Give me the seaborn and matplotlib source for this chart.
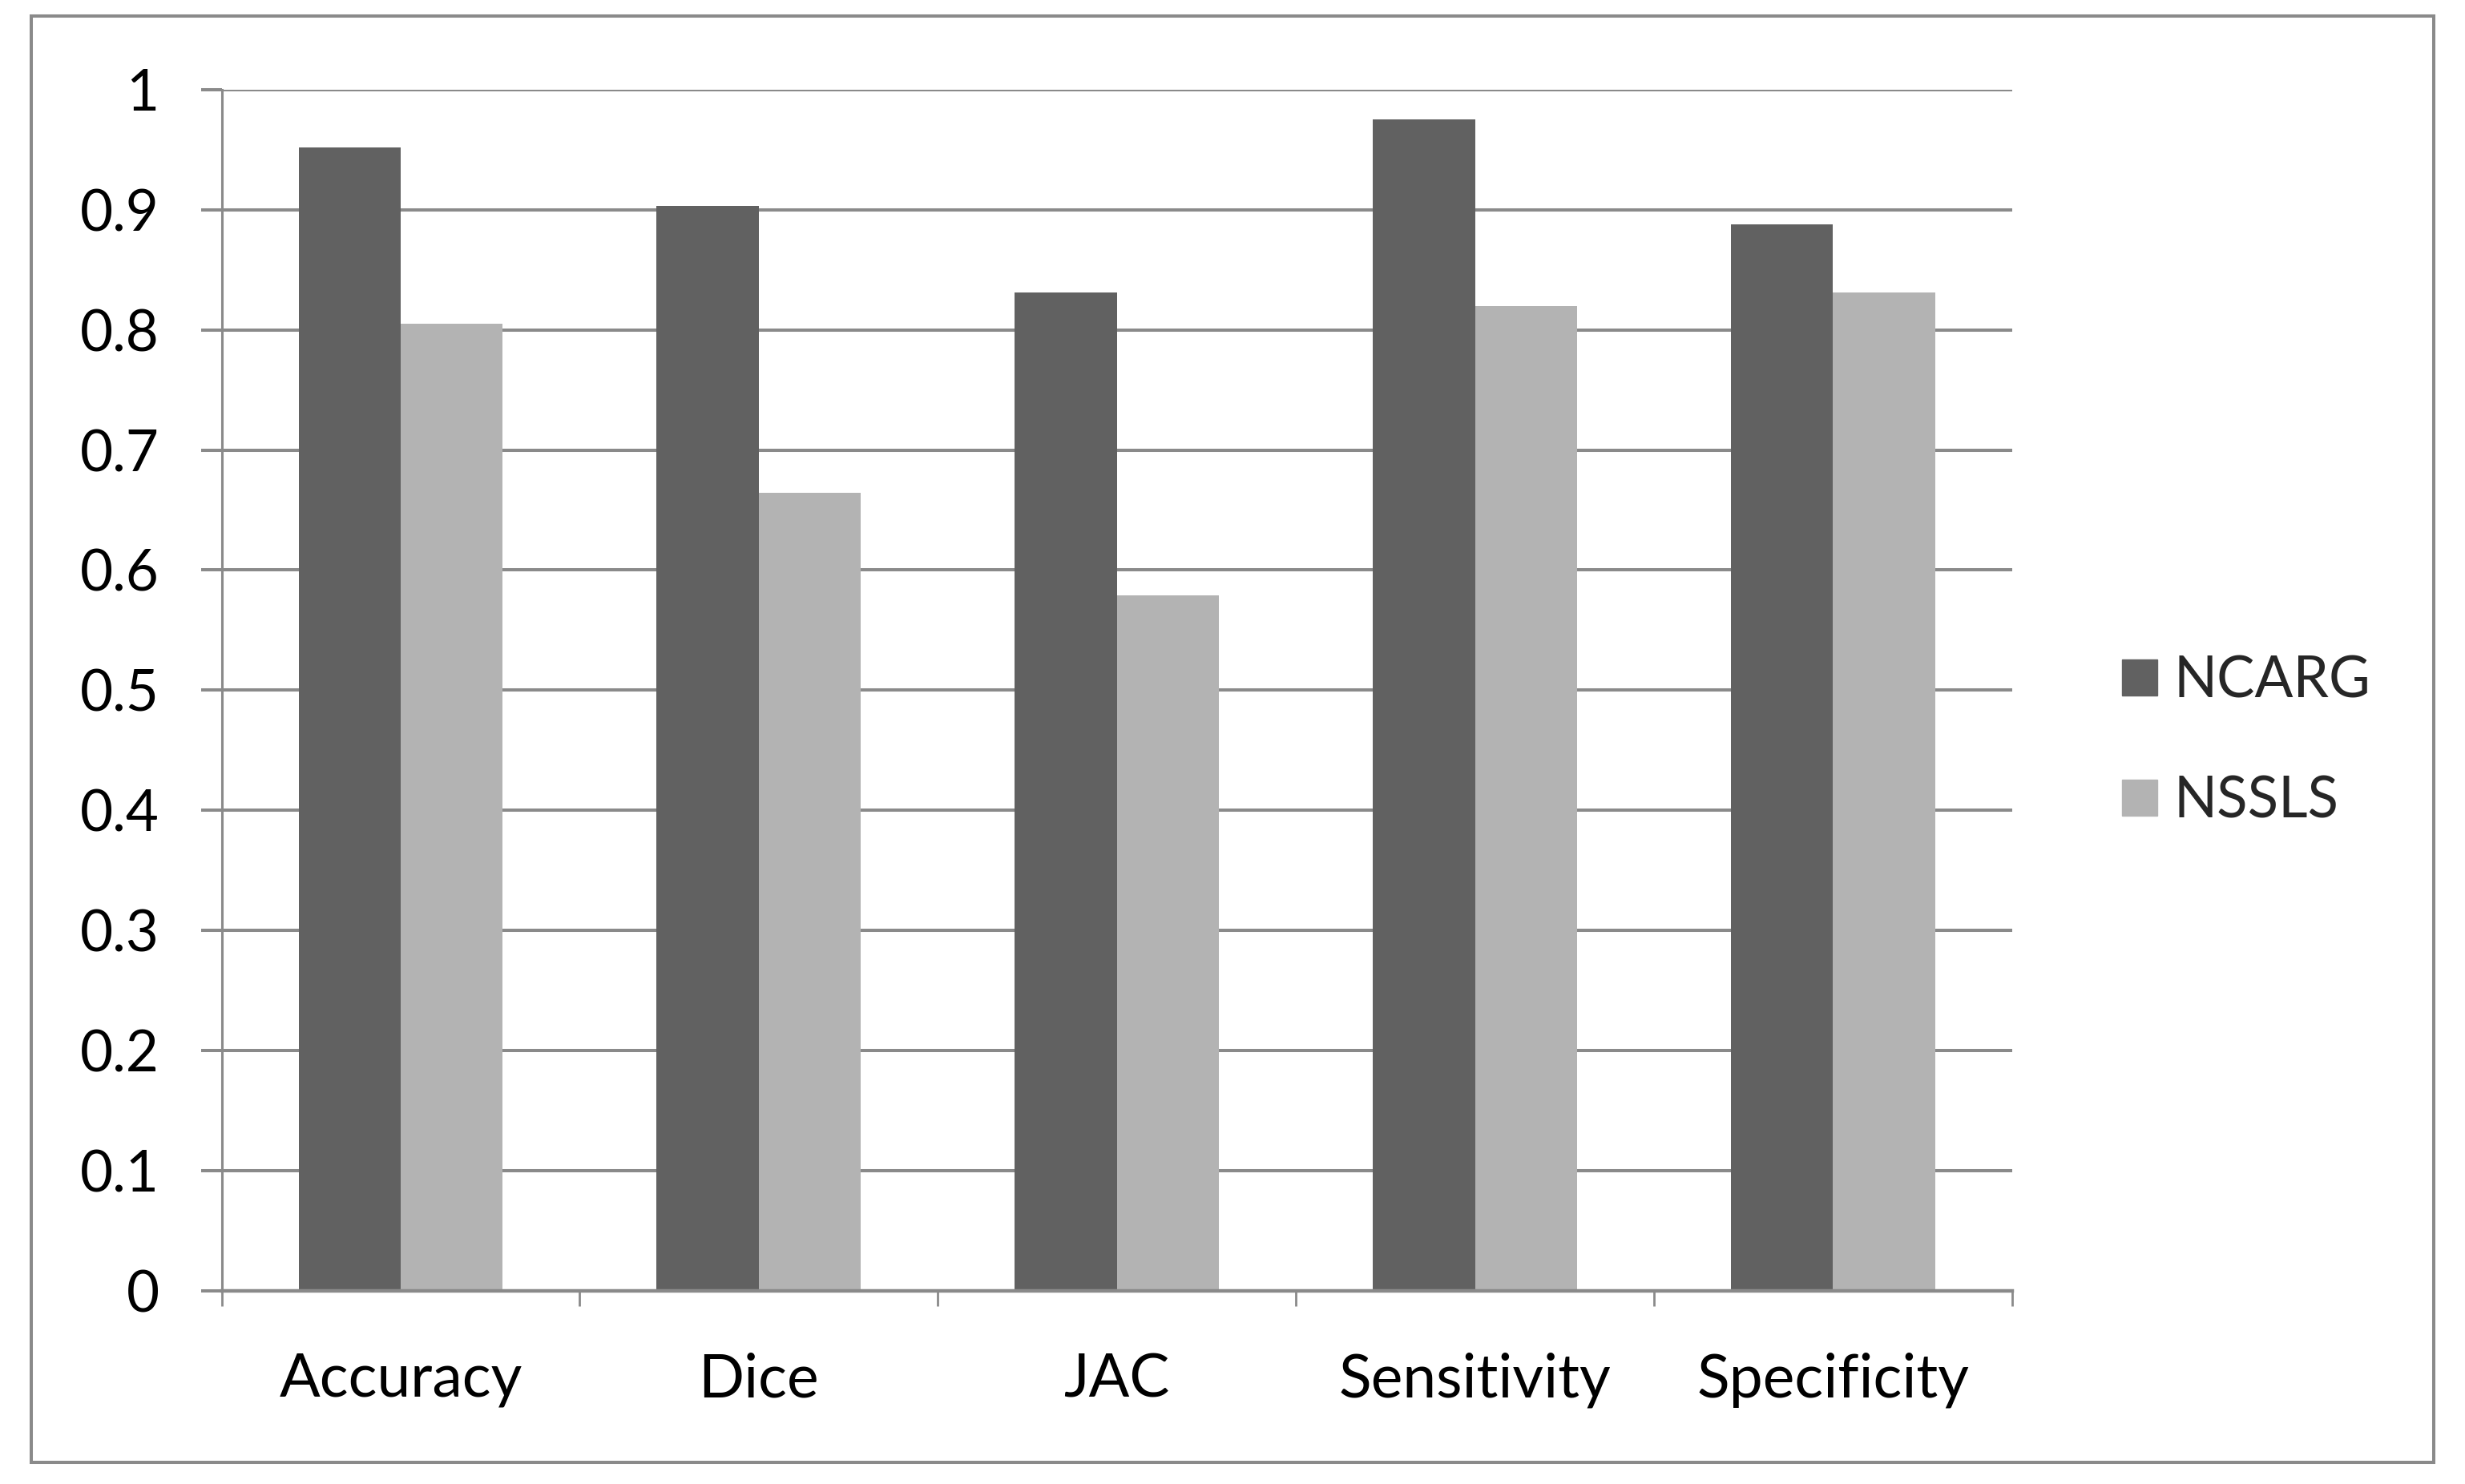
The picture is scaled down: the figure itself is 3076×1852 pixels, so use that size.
import matplotlib
matplotlib.use('Agg')
import matplotlib.pyplot as plt
import matplotlib.patches as mpatches
import seaborn as sns
import pandas as pd
from matplotlib.ticker import FixedLocator

categories = ['Accuracy', 'Dice', 'JAC', 'Sensitivity', 'Specificity']
ncarg = [0.952, 0.903, 0.831, 0.975, 0.888]
nssls = [0.805, 0.664, 0.579, 0.820, 0.831]
series_names = ['NCARG', 'NSSLS']
y_ticks = [0, 0.1, 0.2, 0.3, 0.4, 0.5, 0.6, 0.7, 0.8, 0.9, 1]
y_tick_labels = ['0', '0.1', '0.2', '0.3', '0.4', '0.5', '0.6', '0.7', '0.8', '0.9', '1']

GRID = '#8a8a8a'
COLORS = {'NCARG': '#616161', 'NSSLS': '#b3b3b3'}

sns.set_theme(style='white')
plt.rcParams['font.family'] = ['Lato', 'DejaVu Sans']

df = pd.DataFrame({
    'metric': categories * 2,
    'value': ncarg + nssls,
    'series': [series_names[0]] * len(categories) + [series_names[1]] * len(categories),
})

fig = plt.figure(figsize=(30.76, 18.52), dpi=100)
ax = fig.add_axes([0.0899, 0.1303, 0.8163 - 0.0899, 0.9396 - 0.1303])

sns.barplot(data=df, x='metric', y='value', hue='series', order=categories,
            hue_order=series_names, palette=COLORS, width=0.57, gap=0,
            saturation=1, linewidth=0, errorbar=None, ax=ax, zorder=3)

ax.set_xlim(-0.5, len(categories) - 0.5)
ax.set_ylim(0, 1)
ax.set_yticks(y_ticks)
ax.set_yticklabels(y_tick_labels)
ax.yaxis.grid(True, color=GRID, linewidth=2.9, zorder=0)
ax.set_axisbelow(True)
ax.set_xlabel('')
ax.set_ylabel('')

for side in ['top', 'right']:
    ax.spines[side].set_visible(False)
ax.spines['left'].set_color(GRID)
ax.spines['left'].set_linewidth(2.2)
ax.spines['bottom'].set_color(GRID)
ax.spines['bottom'].set_linewidth(3.2)
ax.spines['bottom'].set_zorder(4)

ax.tick_params(axis='y', which='major', length=19, width=2.9, color=GRID,
               pad=37, labelsize=51, labelcolor='black', left=True)
ax.tick_params(axis='x', which='major', length=0, pad=55, labelsize=54,
               labelcolor='black', bottom=True)
ax.xaxis.set_minor_locator(FixedLocator([i - 0.5 for i in range(len(categories) + 1)]))
ax.tick_params(axis='x', which='minor', length=14, width=2.0, color=GRID, bottom=True)

handles = [mpatches.Patch(color=COLORS[n], label=n) for n in series_names]
ax.legend(handles=handles, loc='center left', bbox_to_anchor=(0.861, 0.5005),
          bbox_transform=fig.transFigure, frameon=False, fontsize=51,
          handlelength=0.61, handleheight=0.61, handletextpad=0.3,
          labelspacing=1.2, borderpad=0, borderaxespad=0)

frame = mpatches.Rectangle((0.0128, 0.0148), 0.9872 - 0.0128, 0.9894 - 0.0148,
                           transform=fig.transFigure, fill=False,
                           edgecolor=GRID, linewidth=2.9)
fig.patches.append(frame)

fig.savefig('out.png', dpi=100, facecolor='white')
plt.close(fig)
